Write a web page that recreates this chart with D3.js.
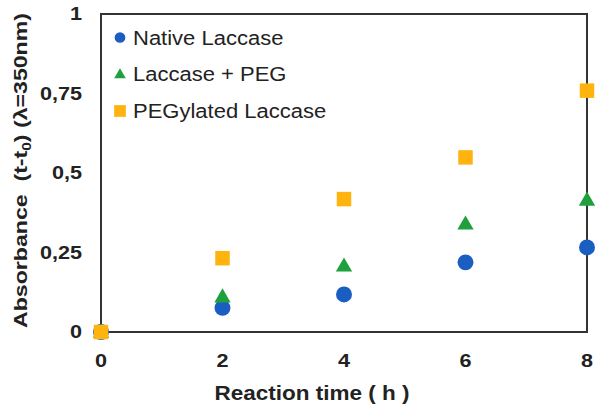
<!DOCTYPE html>
<html><head><meta charset="utf-8">
<script src="https://cdn.jsdelivr.net/npm/d3@7"></script>
<style>body{margin:0;background:#fff}svg{display:block}</style>
</head><body>
<svg id="chart" width="600" height="410"></svg>
<script>
const hours = [0, 2, 4, 6, 8];
const nativeLaccase = [0, 0.076, 0.118, 0.219, 0.266];
const laccasePEG = [0, 0.111, 0.208, 0.340, 0.415];
const pegylatedLaccase = [0, 0.232, 0.418, 0.549, 0.759];
const seriesNames = ["Native Laccase", "Laccase + PEG", "PEGylated Laccase"];
const yTicks = [0, 0.25, 0.5, 0.75, 1];
const yTickLabels = ["0", "0,25", "0,5", "0,75", "1"];
const xTicks = [0, 2, 4, 6, 8];

const colors = ["#1a5ec2", "#1fa03c", "#ffb30f"];
const shapes = [d3.symbolCircle, d3.symbolTriangle, d3.symbolSquare];
const series = [nativeLaccase, laccasePEG, pegylatedLaccase];

const svg = d3.select("#chart");
const L = 101, R = 587, T = 14, B = 332;
const x = d3.scaleLinear().domain([0, 8]).range([L, R]);
const y = d3.scaleLinear().domain([0, 1]).range([B, T]);
const FONT = "Liberation Sans, Arial, sans-serif";

function stretch(sel, f) {
  sel.each(function(){ const w = this.getComputedTextLength(); d3.select(this).attr("textLength", w * f).attr("lengthAdjust", "spacingAndGlyphs"); });
}

// frame
svg.append("rect").attr("x", L).attr("y", T).attr("width", R - L).attr("height", B - T)
  .attr("fill", "none").attr("stroke", "#333").attr("stroke-width", 2);

// y tick labels
const yl = svg.append("g").selectAll("text").data(yTicks).join("text")
  .attr("x", 82).attr("y", d => y(d)).attr("dy", "0.36em")
  .attr("text-anchor", "end")
  .attr("font-family", FONT).attr("font-weight", "bold")
  .attr("font-size", 18).attr("fill", "#222")
  .text((d, i) => yTickLabels[i]);
stretch(yl, 1.2);

// x tick labels
const xl = svg.append("g").selectAll("text").data(xTicks).join("text")
  .attr("x", d => x(d)).attr("y", 367)
  .attr("text-anchor", "middle")
  .attr("font-family", FONT).attr("font-weight", "bold")
  .attr("font-size", 18).attr("fill", "#222")
  .text(d => d);
stretch(xl, 1.2);

// x title
svg.append("text").attr("x", 312).attr("y", 400).attr("text-anchor", "middle")
  .attr("font-family", FONT).attr("font-weight", "bold")
  .attr("font-size", 21).attr("fill", "#222")
  .attr("textLength", 195).attr("lengthAdjust", "spacingAndGlyphs")
  .text("Reaction time ( h )");

// y title
const yt = svg.append("text").attr("transform", "translate(27,170.5) rotate(-90)")
  .attr("text-anchor", "middle")
  .attr("font-family", FONT).attr("font-weight", "bold")
  .attr("font-size", 18).attr("fill", "#222")
  .attr("textLength", 315).attr("lengthAdjust", "spacingAndGlyphs")
  .attr("xml:space", "preserve");
yt.append("tspan").text("Absorbance  (t-t");
yt.append("tspan").attr("font-size", 12).attr("dy", 4).text("0");
yt.append("tspan").attr("dy", -4).text(") (λ=350nm)");

// points
const markSize = [200, 115, 210];
series.forEach((vals, si) => {
  svg.append("g").selectAll("path").data(vals).join("path")
    .attr("transform", (d, i) => `translate(${x(hours[i])},${y(d) + (si === 1 ? 1 : 0)})`)
    .attr("d", d3.symbol().type(shapes[si]).size(markSize[si]))
    .attr("fill", colors[si]);
});

// legend
const legY = [37.5, 74, 111];
const legSize = [90, 58, 137];
const lg = svg.append("g");
seriesNames.forEach((name, i) => {
  lg.append("path").attr("transform", `translate(120,${legY[i] + (i === 1 ? 1 : 0)})`)
    .attr("d", d3.symbol().type(shapes[i]).size(legSize[i])).attr("fill", colors[i]);
  const t = lg.append("text").attr("x", 133).attr("y", legY[i]).attr("dy", "0.36em")
    .attr("font-family", FONT)
    .attr("font-size", 20).attr("fill", "#222").text(name);
  stretch(t, 1.1);
});
</script>
</body></html>
